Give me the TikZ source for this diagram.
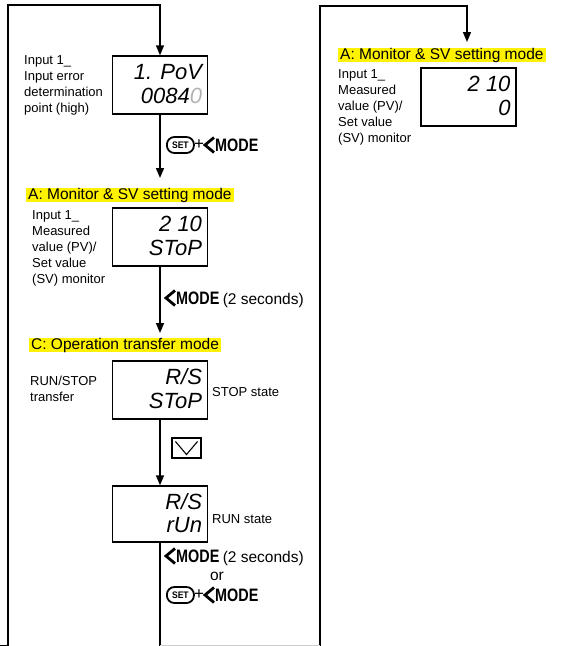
\documentclass[tikz,border=0pt]{standalone}
\usepackage{fontspec}
\setmainfont{Liberation Sans}
\usetikzlibrary{arrows.meta,calc}
\tikzset{
  line/.style={line width=1.4pt},
  arr/.style={line, -{Triangle[width=8pt,length=10pt]}},
  disp/.style={draw, line width=1.4pt, minimum width=95pt, minimum height=58pt, inner sep=0pt},
  seg/.style={font=\fontsize{22}{22}\selectfont\itshape, inner sep=0pt, anchor=base east},
  lbl/.style={font=\fontsize{13}{16}\selectfont, align=left, inner sep=0pt, anchor=north west},
  slbl/.style={font=\fontsize{13}{16}\selectfont, inner sep=0pt, anchor=base west},
  head/.style={fill=yellow, inner xsep=2pt, inner ysep=0pt, text height=11.5pt, text depth=2.5pt,
    font=\fontsize{15.5}{16}\selectfont, anchor=north west},
  big/.style={font=\fontsize{15.5}{16}\selectfont, inner sep=0pt},
  setkey/.style={draw, line width=1.8pt, rounded corners=7.5pt, minimum width=27pt, minimum height=16pt,
    inner sep=0pt, font=\bfseries\fontsize{9.5}{9.5}\selectfont},
  chev/.style={line width=2.8pt, line join=miter},
  modetxt/.style={inner sep=0pt, font=\bfseries\fontsize{18}{18}\selectfont},
}
\newcommand\modekey[3]{%
  \draw[chev] (#2+9,#3-7.5) -- (#2,#3) -- (#2+9,#3+7.5);
  \node[modetxt, anchor=west] (#1) at (#2+10,#3) {\scalebox{0.8}[1]{MODE}};}
\newcommand\setkey[3]{\node[setkey, anchor=west] (#1) at (#2,#3) {\scalebox{0.9}[1]{SET}};}
\begin{document}
\begin{tikzpicture}[x=1pt,y=-1pt]
\useasboundingbox (0,0) rectangle (562,646);

% displays
\node[disp] (b1) at (160,85) {};
\node[seg] (b1a) at ($(b1.north east)+(-6,24)$) {1. PoV};
\node[seg] (b1b) at ($(b1.north east)+(-6,48)$) {0084\textcolor{gray!60}{0}};

\node[disp] (b2) at (160,237) {};
\node[seg] (b2a) at ($(b2.north east)+(-6,24)$) {2 10};
\node[seg] (b2b) at ($(b2.north east)+(-6,48)$) {SToP};

\node[disp] (b3) at (160,390) {};
\node[seg] (b3a) at ($(b3.north east)+(-6,24)$) {R/S};
\node[seg] (b3b) at ($(b3.north east)+(-6,48)$) {SToP};

\node[disp, minimum height=56pt] (b4) at (160,514) {};
\node[seg] (b4a) at ($(b4.north east)+(-6,24)$) {R/S};
\node[seg] (b4b) at ($(b4.north east)+(-6,47)$) {rUn};

\node[disp] (bR) at (468.5,97) {};
\node[seg] (bRa) at ($(bR.north east)+(-6,24)$) {2 10};
\node[seg] (bRb) at ($(bR.north east)+(-6,48)$) {0};

% headings
\node[head] (hA) at (26,188) {A: Monitor \& SV setting mode};
\node[head] (hC) at (29,338) {C: Operation transfer mode};
\node[head] (hR) at (338,48) {A: Monitor \& SV setting mode};

% side labels
\node[lbl] (l1) at (24,55.5) {Input 1\_\\Input error\\determination\\point (high)};
\node[lbl] (l2) at (32,210.5) {Input 1\_\\Measured\\value (PV)/\\Set value\\(SV) monitor};
\node[lbl] (lR) at (338,69.5) {Input 1\_\\Measured\\value (PV)/\\Set value\\(SV) monitor};
\node[lbl] (l3) at (30,375.5) {RUN/STOP\\transfer};
\node[slbl] (s3) at (212,396) {STOP state};
\node[slbl] (s4) at (212,523) {RUN state};

% key labels
\setkey{k1s}{166}{145}
\node[big, anchor=west, font=\fontsize{17}{17}\selectfont] (k1p) at (194,145) {+};
\modekey{k1m}{205}{145}

\modekey{k2m}{166}{298}
\node[big, anchor=base west] (k2t) at ($(k2m.base east)+(3,0)$) {(2 seconds)};

\node[draw, line width=1.1pt, minimum width=29pt, minimum height=20pt, inner sep=0pt] (down) at (186.5,448) {};
\draw[line width=1.1pt] ($(down.north west)+(4,4)$) -- ($(down.south)+(0,-4)$) -- ($(down.north east)+(-4,4)$);

\modekey{k3m}{166}{556}
\node[big, anchor=base west] (k3t) at ($(k3m.base east)+(3,0)$) {(2 seconds)};
\node[big, anchor=base] (k3or) at (217,580) {or};
\setkey{k3s}{166}{595}
\node[big, anchor=west, font=\fontsize{17}{17}\selectfont] (k3p) at (194,595) {+};
\modekey{k3m2}{205}{595}

% connectors
\coordinate (lb0) at (0,645.3);
\coordinate (lb1) at (8,645.3);
\coordinate (lt) at (8,5);
\coordinate (mb) at (160,646);
\coordinate (rb) at (320,646);
\coordinate (rt) at (320,6);
\coordinate (rt2) at (467,6);
\draw[arr] (lb0) -- (lb1) -- (lt) -- (b1.north |- lt) -- (b1.north);
\draw[arr, shorten >=10pt] (b1.south) -- (b1.south |- hA.north);
\draw[arr, shorten >=5pt] (b2.south) -- (b2.south |- hC.north);
\draw[arr] (b3.south) -- (b4.north);
\draw[line] (b4.south) -- (mb);
\draw[arr, shorten >=6pt] (rb) -- (rt) -- (rt2) -- (rt2 |- hR.north);
\draw[gray!40, line width=0.8pt] (mb) ++(0,-0.5) -- ($(rb)+(0,-0.5)$);
\end{tikzpicture}
\end{document}
